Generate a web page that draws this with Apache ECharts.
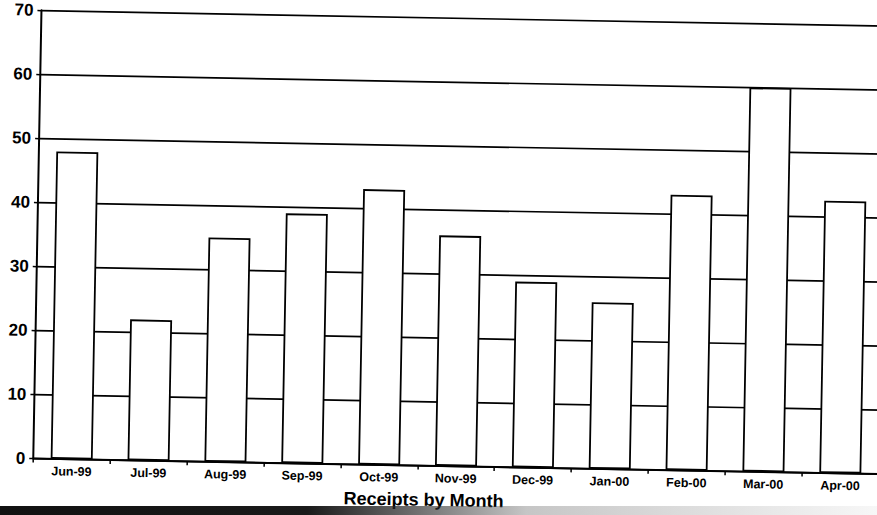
<!DOCTYPE html>
<html>
<head>
<meta charset="utf-8">
<script src="https://cdn.jsdelivr.net/npm/echarts@6/dist/echarts.min.js"></script>
<style>
  html, body { margin: 0; padding: 0; background: #fff; overflow: hidden; width: 877px; height: 515px; }
  #chart { position: absolute; left: 0; top: 0; width: 890px; height: 515px;
           transform: rotate(1.05deg); transform-origin: 438.5px 257.5px; }
  #band { position: absolute; left: 0; top: 506px; width: 877px; height: 9px;
          background: linear-gradient(to right, #111 0%, #1a1a1a 35%, rgba(90,90,90,0.35) 60%, rgba(200,200,200,0.15) 100%); }
</style>
</head>
<body>
<div id="chart"></div>
<div id="band"></div>
<script>
const categories = ['Jun-99','Jul-99','Aug-99','Sep-99','Oct-99','Nov-99','Dec-99','Jan-00','Feb-00','Mar-00','Apr-00'];
const receipts = [48, 22, 35, 39, 43, 36, 29, 26, 43, 60, 42.5];
const yTicks = [0, 10, 20, 30, 40, 50, 60, 70];
const chartTitle = 'Receipts by Month';

const font = 'Arial, "Liberation Sans", sans-serif';
const chart = echarts.init(document.getElementById('chart'), null, { renderer: 'svg' });
chart.setOption({
  animation: false,
  backgroundColor: 'transparent',
  grid: { left: 37, top: 17.6, right: 7.4, bottom: 49.1, containLabel: false },
  xAxis: {
    type: 'category',
    data: categories,
    boundaryGap: true,
    axisLine: { show: true, lineStyle: { color: '#000', width: 2 } },
    axisTick: { show: true, inside: false, length: 4, alignWithLabel: false, lineStyle: { color: '#000', width: 1.5 } },
    axisLabel: { margin: 6, color: '#000', fontFamily: font, fontWeight: 'bold', fontSize: 12.5 },
    splitLine: { show: false }
  },
  yAxis: {
    type: 'value',
    min: yTicks[0],
    max: yTicks[yTicks.length - 1],
    interval: 10,
    axisLine: { show: true, lineStyle: { color: '#000', width: 2 } },
    axisTick: { show: true, inside: false, length: 4, lineStyle: { color: '#000', width: 1.5 } },
    axisLabel: { margin: 8, color: '#000', fontFamily: font, fontWeight: 'bold', fontSize: 17 },
    splitLine: { show: true, lineStyle: { color: '#000', width: 1.7 } }
  },
  series: [{
    type: 'bar',
    data: receipts,
    barWidth: 42,
    itemStyle: { color: '#fff', borderColor: '#000', borderWidth: 1.8 }
  }],
  graphic: [{
    type: 'text',
    left: 426 - 78,
    top: 491,
    style: {
      text: chartTitle,
      fill: '#000',
      font: 'bold 18px ' + font
    }
  }]
});
</script>
</body>
</html>
